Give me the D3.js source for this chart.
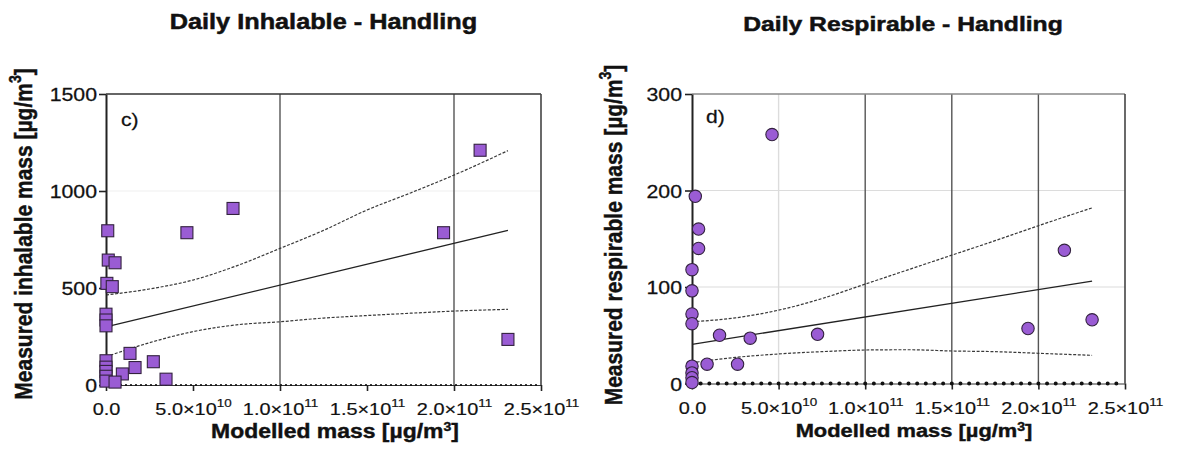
<!DOCTYPE html>
<html><head><meta charset="utf-8">
<script src="https://cdn.jsdelivr.net/npm/d3@7"></script>
<style>
body{margin:0;background:#fff}
svg{display:block}
text{font-family:"Liberation Sans",Arial,sans-serif;fill:#111}
</style>
</head><body>
<svg id="chart" width="1177" height="453"></svg>
<script>
// ---------- DATA ----------
const xTickValues = [0, 5e10, 1e11, 1.5e11, 2e11, 2.5e11];
const inhYTicks = [0, 500, 1000, 1500];
const resYTicks = [0, 100, 200, 300];

// Daily Inhalable - Handling (panel c)
const inhModelled = [2.15e11, 7.3e10, 4.65e10, 1.94e11, 2.31e11, 1e9, 1.3e9, 5.2e9, 5e8, 3.6e9,
                     0, 0, 0, 0, 0, 0, 0, 0, 1.38e10, 1.67e10, 9.4e9, 2.72e10, 3.45e10, 5.2e9];
const inhMeasured = [1210, 910, 785, 785, 235, 795, 644, 630, 524, 507,
                     365, 335, 305, 125, 92, 70, 45, 20, 163, 90, 57, 120, 30, 15];

// Daily Respirable - Handling (panel d)
const resModelled = [4.62e10, 1.9e9, 3.8e9, 3.8e9, 0, 0, 0, 0, 0, 0, 0, 0,
                     8.7e9, 1.59e10, 2.63e10, 3.36e10, 7.25e10, 1.94e11, 2.15e11, 2.31e11];
const resMeasured = [258, 194, 160, 140, 118, 96, 72, 62, 18, 11, 6, 1,
                     20, 50, 20, 47, 51, 57, 138, 66];

// Linear fits (end points) and 95% confidence bands
const fitX = [0, 2.31e11];
const inhFit = [300, 797];
const resFit = [40.6, 106];
const bandX = [0, 2.5e10, 5e10, 7.5e10, 1e11, 1.25e11, 1.5e11, 1.75e11, 2e11, 2.31e11];
const inhUpper = [464, 495, 541, 614, 704, 797, 902, 990, 1082, 1208];
const inhLower = [146, 218, 275, 310, 326, 345, 358, 370, 381, 390];
const resUpper = [64, 68, 76, 88, 103, 118, 133, 148, 163.5, 182];
const resLower = [21.6, 27, 30.6, 33, 34.7, 35, 33.7, 33, 31.3, 29.2];

// ---------- DRAW ----------
const SX = 1.17;
const svg = d3.select("#chart");
const fillColor = "#9a5cd4";

function supLabel(sel, main, sup, size, supSize, after, rise) {
  const r = rise || 0.42;
  sel.append("tspan").text(main);
  sel.append("tspan").attr("font-size", supSize).attr("dy", -size * r).text(sup);
  if (after) sel.append("tspan").attr("dy", size * r).text(after);
}

function fmtTick(v) {
  if (v === 0) return ["0.0", null];
  const e = Math.floor(Math.log10(v));
  const m = v / Math.pow(10, e);
  return [m.toFixed(1) + "\u00d710", String(e)];
}

function drawChart(cfg) {
  const g = svg.append("g");
  const x = d3.scaleLinear().domain([0, 2.5e11]).range([cfg.left, cfg.right]);
  const y = d3.scaleLinear().domain([0, cfg.yMax]).range([cfg.bottom, cfg.top]);

  // grid lines
  cfg.hGrid.forEach(([v, c]) => g.append("line")
    .attr("x1", x(0)).attr("x2", x(2.5e11)).attr("y1", y(v)).attr("y2", y(v))
    .attr("stroke", c).attr("stroke-width", 1.2));
  cfg.vGrid.forEach(([v, c]) => g.append("line")
    .attr("x1", x(v)).attr("x2", x(v)).attr("y1", y(0)).attr("y2", y(cfg.yMax))
    .attr("stroke", c).attr("stroke-width", 1.4));
  // frame top & right
  g.append("line").attr("x1", x(0)).attr("x2", x(2.5e11)).attr("y1", y(cfg.yMax)).attr("y2", y(cfg.yMax))
    .attr("stroke", cfg.topColor).attr("stroke-width", 1.6);
  g.append("line").attr("x1", x(2.5e11)).attr("x2", x(2.5e11)).attr("y1", y(0)).attr("y2", y(cfg.yMax))
    .attr("stroke", "#444").attr("stroke-width", 1.6);

  // confidence bands
  const band = d3.line().x(d => x(d[0])).y(d => y(d[1])).curve(d3.curveMonotoneX);
  [cfg.upper, cfg.lower].forEach(arr => g.append("path")
    .attr("d", band(bandX.map((v, i) => [v, arr[i]])))
    .attr("fill", "none").attr("stroke", "#3a3a3a").attr("stroke-width", 1.2)
    .attr("stroke-dasharray", "3,1.6"));
  // fit line
  g.append("path").attr("d", band(fitX.map((v, i) => [v, cfg.fit[i]])))
    .attr("fill", "none").attr("stroke", "#222").attr("stroke-width", 1.3);

  // y axis
  const ya = g.append("g").attr("transform", `translate(${x(0)},0)`)
    .call(d3.axisLeft(y).tickValues(cfg.yTicks).tickSize(7).tickSizeOuter(0).tickFormat(d3.format("d")));
  ya.select(".domain").attr("stroke", "#222").attr("stroke-width", 2);
  ya.selectAll(".tick line").attr("stroke", "#222").attr("stroke-width", 1.6);
  ya.selectAll(".tick text").attr("x", null).attr("dy", "0.36em")
    .attr("font-size", 18.2).attr("fill", "#111").attr("stroke", "#111").attr("stroke-width", 0.25)
    .attr("transform", `translate(${-(7 + cfg.yPad)},0) scale(${SX},1)`);

  // x axis
  const xa = g.append("g").attr("transform", `translate(0,${y(0)})`)
    .call(d3.axisBottom(x).tickValues(xTickValues).tickSize(6).tickSizeOuter(0).tickFormat(() => ""));
  xa.select(".domain").attr("stroke", "#333").attr("stroke-width", 1);
  xa.append("line").attr("x1", x(0)).attr("x2", x(2.5e11)).attr("y1", 0).attr("y2", 0)
    .attr("stroke", "#111").attr("stroke-width", cfg.dotW).attr("stroke-linecap", "round")
    .attr("stroke-dasharray", cfg.dotDash);
  xa.selectAll(".tick line").attr("stroke", "#222").attr("stroke-width", 1.6);
  xa.selectAll(".tick text").each(function(d) {
    const t = d3.select(this).attr("y", null).attr("dy", null)
      .attr("font-size", 17).attr("fill", "#111").attr("stroke", "#111").attr("stroke-width", 0.2)
      .attr("transform", `translate(0,${cfg.xtOff}) scale(${SX},1)`);
    const [m, e] = fmtTick(d);
    if (e === null) t.text(m);
    else supLabel(t, m, e, 17, 11.5);
  });

  // markers
  const pts = cfg.mx.map((v, i) => [v, cfg.my[i]]);
  if (cfg.shape === "square") {
    g.selectAll("rect.pt").data(pts).join("rect").attr("class", "pt")
      .attr("x", d => x(d[0]) - 6).attr("y", d => y(d[1]) - 6)
      .attr("width", 12).attr("height", 12)
      .attr("fill", fillColor).attr("stroke", "#33223f").attr("stroke-width", 1.1);
  } else {
    g.selectAll("circle.pt").data(pts).join("circle").attr("class", "pt")
      .attr("cx", d => x(d[0])).attr("cy", d => y(d[1])).attr("r", 6.2)
      .attr("fill", fillColor).attr("stroke", "#33223f").attr("stroke-width", 1.1);
  }

  // panel label
  g.append("text").attr("transform", `translate(${cfg.panelX},${cfg.panelY}) scale(${SX},1)`)
    .attr("font-size", 18).attr("stroke", "#111").attr("stroke-width", 0.25).text(cfg.panel);

  // title
  g.append("text").attr("transform", `translate(${cfg.titleX},${cfg.titleY}) scale(${SX},1)`)
    .attr("text-anchor", "middle").attr("font-size", cfg.titleSize).attr("font-weight", "bold")
    .attr("stroke", "#111").attr("stroke-width", 0.5)
    .text(cfg.title);

  // x label
  const xl = g.append("text").attr("transform", `translate(${cfg.xlX},${cfg.xlY}) scale(${SX},1)`)
    .attr("text-anchor", "middle").attr("font-size", cfg.xlSize).attr("font-weight", "bold")
    .attr("stroke", "#111").attr("stroke-width", 0.4);
  supLabel(xl, "Modelled mass [\u00b5g/m", "3", cfg.xlSize, 12, "]", 0.34);

  // y label
  const yl = g.append("text").attr("transform", `translate(${cfg.ylX},${cfg.ylY}) rotate(-90) scale(1,${SX})`)
    .attr("text-anchor", "middle").attr("font-size", 21).attr("font-weight", "bold")
    .attr("stroke", "#111").attr("stroke-width", 0.4);
  supLabel(yl, cfg.yLabel + " [\u00b5g/m", "3", 21, 14, "]");
}

drawChart({
  left: 106, right: 541, top: 94, bottom: 385, yMax: 1500, yTicks: inhYTicks, yPad: 2,
  hGrid: [[1000, "#f0f0f0"]], vGrid: [[1e11, "#555"], [2e11, "#555"]], topColor: "#333",
  fit: inhFit, upper: inhUpper, lower: inhLower,
  dotW: 2.2, dotDash: "0,5", xtOff: 29.5,
  mx: inhModelled, my: inhMeasured, shape: "square",
  panel: "c)", panelX: 121, panelY: 126,
  title: "Daily Inhalable - Handling", titleX: 323.5, titleY: 28.5, titleSize: 21.6,
  xlX: 335, xlY: 437.5, xlSize: 19.6,
  ylX: 31.5, ylY: 234, yLabel: "Measured inhalable mass"
});

drawChart({
  left: 692, right: 1125, top: 94, bottom: 383.5, yMax: 300, yTicks: resYTicks, yPad: 3,
  hGrid: [[100, "#dcdcdc"], [200, "#dcdcdc"]],
  vGrid: [[5e10, "#dcdcdc"], [1e11, "#555"], [1.5e11, "#555"], [2e11, "#555"]], topColor: "#888",
  fit: resFit, upper: resUpper, lower: resLower,
  dotW: 4, dotDash: "0,8.66", xtOff: 30,
  mx: resModelled, my: resMeasured, shape: "circle",
  panel: "d)", panelX: 706, panelY: 123,
  title: "Daily Respirable - Handling", titleX: 903, titleY: 30.5, titleSize: 21.1,
  xlX: 914, xlY: 437, xlSize: 18.7,
  ylX: 621.5, ylY: 235, yLabel: "Measured respirable mass"
});
</script>
</body></html>
